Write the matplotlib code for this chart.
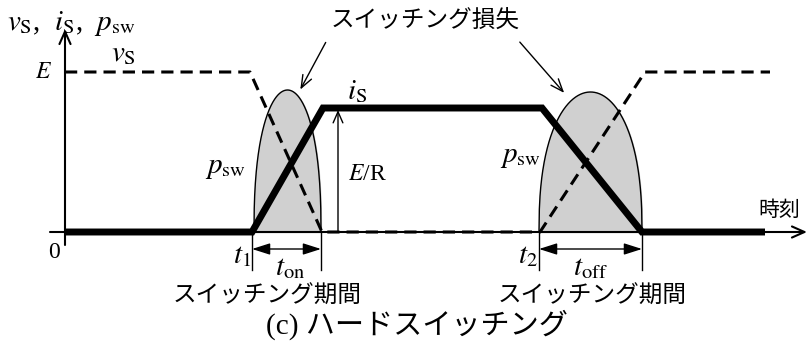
import matplotlib.pyplot as plt
import numpy as np

# time breakpoints and levels (units: px-like, origin at the axes crossing)
t_v = [0, 185, 257, 475, 580, 705]
v_s = [160, 160, 0, 0, 160, 160]
t_i = [0, 187, 258, 477, 577, 700]
i_s = [0, 0, 124, 124, 0, 0]
# switching-loss lobes: start, end, peak
lobe_start = [189, 474]
lobe_end = [256, 577]
lobe_peak = [142, 140]
t_on = [187, 256]
t_off = [474, 577]

plt.rcParams['font.family'] = ['Liberation Serif', 'Noto Sans CJK JP']
plt.rcParams['mathtext.fontset'] = 'stix'
fig = plt.figure(figsize=(8.09, 3.45), dpi=100)
ax = fig.add_axes([0, 0, 1, 1])
ax.set_xlim(-65, 744)
ax.set_ylim(-113, 232)
ax.axis('off')

# axes
ax.annotate('', xy=(0, 203), xytext=(0, -13),
            arrowprops=dict(arrowstyle='->,head_length=0.9,head_width=0.4', lw=1.5, color='black',
                            shrinkA=0, shrinkB=0))
ax.annotate('', xy=(742, 0), xytext=(-15, 0),
            arrowprops=dict(arrowstyle='->,head_length=0.9,head_width=0.4', lw=1.5, color='black',
                            shrinkA=0, shrinkB=0))

# loss lobes
for a, b, h in zip(lobe_start, lobe_end, lobe_peak):
    s = np.linspace(-1, 1, 300)
    y = h * np.clip(1 - s ** 2, 0, None) ** 0.42
    x = a + (s + 1) / 2 * (b - a)
    ax.fill_between(x, 0, y, color='#d0d0d0', zorder=1)
    ax.plot(x, y, color='black', lw=1.0, zorder=2)

ax.plot(t_i, i_s, color='black', lw=5, solid_joinstyle='miter', solid_capstyle='butt', zorder=4)
ax.plot(t_v, v_s, color='black', lw=2.2, dashes=(4, 2.3), zorder=3)

# E/R arrow
ax.annotate('', xy=(273, 122), xytext=(273, 0),
            arrowprops=dict(arrowstyle='->,head_length=0.8,head_width=0.35', lw=1.0, color='black',
                            shrinkA=0, shrinkB=0))

# switching period markers
for (a, b) in (t_on, t_off):
    ax.plot([a, a], [0, -38], color='black', lw=1.0)
    ax.plot([b, b], [0, -38], color='black', lw=1.0)
    ax.annotate('', xy=(a, -17), xytext=(b, -17),
                arrowprops=dict(arrowstyle='<|-|>,head_length=1.1,head_width=0.35', lw=1.0,
                                color='black', shrinkA=0, shrinkB=0))

fs = 17
fm = 21
ax.text(-58, 208, r'$v_\mathrm{S}$,  $i_\mathrm{S}$,  $p_\mathrm{sw}$', fontsize=fm, va='center')
ax.text(-13, 160, r'$E$', fontsize=fs, ha='right', va='center')
ax.text(58, 178, r'$v_\mathrm{S}$', fontsize=fm, ha='center', va='center')
ax.text(-11, -20, '0', fontsize=fs, ha='center', va='center')
ax.text(714, 21, '時刻', fontsize=15, ha='center', va='center')
ax.text(292, 140, r'$i_\mathrm{S}$', fontsize=fm, ha='center', va='center')
ax.text(160, 64, r'$p_\mathrm{sw}$', fontsize=fm, ha='center', va='center')
ax.text(455, 75, r'$p_\mathrm{sw}$', fontsize=fm, ha='center', va='center')
ax.text(302, 57, r'$E$/R', fontsize=fs, ha='center', va='center')
ax.text(177, -24, r'$t_1$', fontsize=fm, ha='center', va='center')
ax.text(463, -24, r'$t_2$', fontsize=fm, ha='center', va='center')
ax.text(225, -36, r'$t_\mathrm{on}$', fontsize=fm, ha='center', va='center')
ax.text(525, -36, r'$t_\mathrm{off}$', fontsize=fm, ha='center', va='center')
ax.text(202, -65, 'スイッチング期間', fontsize=fs, ha='center', va='center')
ax.text(527, -65, 'スイッチング期間', fontsize=fs, ha='center', va='center')
ax.text(352, -93, '(c) ハードスイッチング', fontsize=21, ha='center', va='center')
ax.text(360, 210, 'スイッチング損失', fontsize=fs, ha='center', va='center')

# callout arrows
ax.annotate('', xy=(234, 140), xytext=(262, 192),
            arrowprops=dict(arrowstyle='->,head_length=0.9,head_width=0.35', lw=1.0, color='black'))
ax.annotate('', xy=(501, 137), xytext=(453, 192),
            arrowprops=dict(arrowstyle='->,head_length=0.9,head_width=0.35', lw=1.0, color='black'))

fig.savefig('out.png', dpi=100)
